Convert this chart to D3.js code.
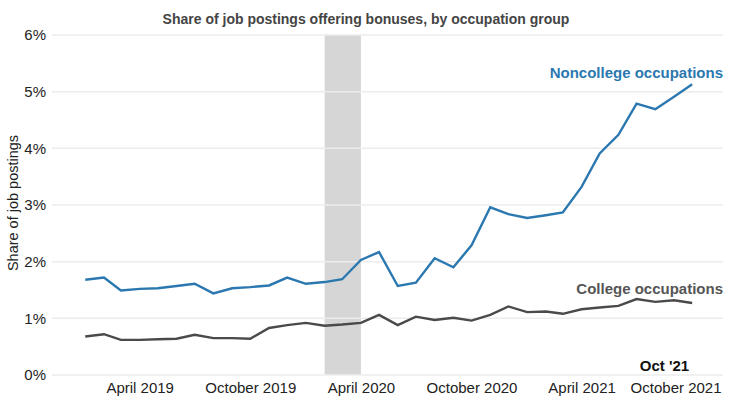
<!DOCTYPE html>
<html>
<head>
<meta charset="utf-8">
<script src="https://cdn.jsdelivr.net/npm/d3@7"></script>
<style>
  body { margin: 0; background: #fff; }
  text { font-family: "Liberation Sans", Arial, sans-serif; }
</style>
</head>
<body>
<div id="svgcontainer"></div>
<script>
// months Jan 2019 .. Oct 2021, values in percent
var months = d3.range(34).map(function(i){ return new Date(2019, i, 1); });

var noncollege = [1.68, 1.72, 1.49, 1.52, 1.53, 1.57, 1.61, 1.44, 1.53, 1.55, 1.58, 1.72,
                  1.61, 1.64, 1.69, 2.03, 2.17, 1.57, 1.63, 2.06, 1.90, 2.29, 2.96, 2.84,
                  2.77, 2.82, 2.87, 3.32, 3.91, 4.24, 4.79, 4.69, 4.91, 5.13];

var college = [0.68, 0.72, 0.62, 0.62, 0.63, 0.64, 0.71, 0.65, 0.65, 0.64, 0.83, 0.88,
               0.92, 0.87, 0.89, 0.92, 1.06, 0.88, 1.03, 0.97, 1.01, 0.96, 1.06, 1.21,
               1.11, 1.12, 1.08, 1.16, 1.19, 1.22, 1.34, 1.29, 1.32, 1.27];

var yTicks = [0, 1, 2, 3, 4, 5, 6];
var xTickMonths = [new Date(2019, 3, 1), new Date(2019, 9, 1), new Date(2020, 3, 1),
                   new Date(2020, 9, 1), new Date(2021, 3, 1), new Date(2021, 9, 1)];
var xTickLabels = ["April 2019", "October 2019", "April 2020", "October 2020", "April 2021", "October 2021"];
var recession = [new Date(2020, 1, 1), new Date(2020, 3, 1)];

var width = 734, height = 404,
    margin = {top: 35, right: 11, bottom: 29, left: 52},
    iw = width - margin.left - margin.right,
    ih = height - margin.top - margin.bottom;

var svg = d3.select("div#svgcontainer").append("svg")
    .attr("width", width)
    .attr("height", height);
var g = svg.append("g")
    .attr("transform", "translate(" + margin.left + "," + margin.top + ")");

var x = d3.scaleTime()
    .domain([new Date(2018, 10, 7), new Date(2021, 10, 21)])
    .range([0, iw]);
var y = d3.scaleLinear().domain([0, 6]).range([ih, 0]);

var blue = "#2b78b0", grey = "#4a4a4a";

// recession shading
g.append("rect")
    .attr("x", x(recession[0]))
    .attr("width", x(recession[1]) - x(recession[0]))
    .attr("y", 0)
    .attr("height", ih)
    .style("fill", "#d6d6d6");

// gridlines
g.selectAll(".grid").data(yTicks).enter().append("line")
    .attr("class", "grid")
    .attr("x1", 0).attr("x2", iw)
    .attr("y1", function(d){ return y(d); })
    .attr("y2", function(d){ return y(d); })
    .style("stroke", "#ececec")
    .style("stroke-width", 1.5);

// y axis labels
var yAxis = g.append("g")
    .call(d3.axisLeft(y).tickValues(yTicks).tickFormat(function(d){ return d + "%"; }).tickSize(0).tickPadding(6));
yAxis.select(".domain").remove();
yAxis.selectAll("text").style("font-size", "15px").style("fill", "#222");

g.append("text")
    .attr("transform", "rotate(-90)")
    .attr("x", -168)
    .attr("y", -34)
    .style("text-anchor", "middle")
    .style("font-size", "14.5px")
    .style("fill", "#222")
    .text("Share of job postings");

// x axis labels
var xAxis = g.append("g")
    .attr("transform", "translate(0," + ih + ")")
    .call(d3.axisBottom(x).tickValues(xTickMonths)
          .tickFormat(function(d, i){ return xTickLabels[i]; }).tickSize(0).tickPadding(7));
xAxis.select(".domain").remove();
xAxis.selectAll("text").style("font-size", "15px").style("fill", "#222");
// last label is pulled in so it stays inside the plot
var lastTick = xTickMonths[xTickMonths.length - 1];
xAxis.selectAll(".tick text").filter(function(d){ return +d === +lastTick; })
    .attr("text-anchor", "end")
    .attr("x", iw - x(lastTick) - 2);

var line = d3.line()
    .x(function(d, i){ return x(months[i]); })
    .y(function(d){ return y(d); });

g.append("path").datum(noncollege)
    .attr("d", line)
    .style("fill", "none").style("stroke", blue).style("stroke-width", 2.4);
g.append("path").datum(college)
    .attr("d", line)
    .style("fill", "none").style("stroke", grey).style("stroke-width", 2.4);

// labels
g.append("text")
    .attr("x", iw).attr("y", 43)
    .style("text-anchor", "end").style("font-weight", "bold").style("font-size", "15px")
    .style("fill", blue)
    .text("Noncollege occupations");
g.append("text")
    .attr("x", iw).attr("y", 259)
    .style("text-anchor", "end").style("font-weight", "bold").style("font-size", "15px")
    .style("fill", "#555")
    .text("College occupations");
g.append("text")
    .attr("x", x(months[33]) - 3).attr("y", 336)
    .style("text-anchor", "end").style("font-weight", "bold").style("font-size", "15px")
    .style("fill", "#111")
    .text("Oct '21");

svg.append("text")
    .attr("x", 366).attr("y", 24)
    .style("text-anchor", "middle").style("font-weight", "bold").style("font-size", "14px")
    .style("fill", "#444")
    .text("Share of job postings offering bonuses, by occupation group");
</script>
</body>
</html>
